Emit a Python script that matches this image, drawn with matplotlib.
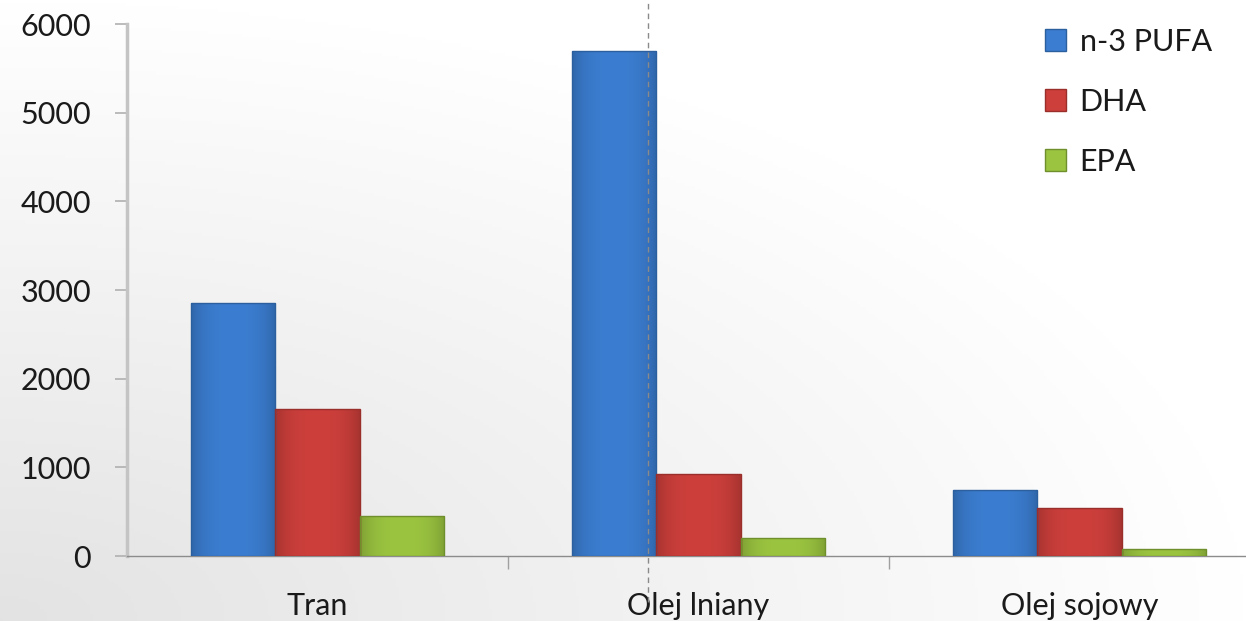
import numpy as np
import matplotlib
matplotlib.use('Agg')
import matplotlib.pyplot as plt
from matplotlib.lines import Line2D
from matplotlib.colors import to_rgb

categories = ['Tran', 'Olej lniany', 'Olej sojowy']
series_names = ['n-3 PUFA', 'DHA', 'EPA']
pufa = [2850, 5690, 750]
dha = [1660, 925, 545]
epa = [450, 200, 75]
y_ticks = [0, 1000, 2000, 3000, 4000, 5000, 6000]

_COLORS = ['#3b7dd0', '#cc3f3b', '#9bc440']
_EDGES = ['#2b5f9e', '#9a2e2b', '#6f8f2c']
_FONT = ['Lato', 'DejaVu Sans']
_TXT = '#1a1a1a'
_FS = 22

plt.rcParams['font.family'] = _FONT

W, H = 1246, 621
fig = plt.figure(figsize=(W / 100, H / 100), dpi=100)

# soft grey gradient background, darker towards the lower-left corner
bg = fig.add_axes([0, 0, 1, 1], zorder=-10)
yy, xx = np.mgrid[0:1:200j, 0:1:400j]
shade = 0.89 + 0.11 * np.clip(np.hypot(xx, yy) / 1.0, 0, 1)
bg.imshow(np.dstack([shade, shade, shade]), extent=[0, 1, 0, 1], origin='lower',
          aspect='auto')
bg.axis('off')

ax = fig.add_axes([127 / W, 1 - 556 / H, 1 - 127 / W, (556 - 24) / H])
ax.patch.set_alpha(0)


def shade_bar(ax, patch, color):
    # horizontal bevel: darker at the sides, lighter in the middle
    base = np.array(to_rgb(color))
    u = np.linspace(0, 1, 64)
    f = 1.0 - 0.18 * np.abs(u - 0.5) ** 3 * 8
    img = np.clip(base[None, None, :] * f[None, :, None], 0, 1)
    x0, y0 = patch.get_x(), patch.get_y()
    im = ax.imshow(img, extent=[x0, x0 + patch.get_width(), y0, y0 + patch.get_height()],
                   aspect='auto', zorder=3, interpolation='bicubic')
    im.set_clip_path(patch)


x = np.arange(len(categories))
bw = 0.222
for i, vals in enumerate([pufa, dha, epa]):
    bars = ax.bar(x + (i - 1) * bw, vals, width=bw, color=_COLORS[i], edgecolor=_EDGES[i],
                  linewidth=1.0, label=series_names[i], zorder=4)
    for b in bars:
        shade_bar(ax, b, _COLORS[i])
        b.set_facecolor('none')

ax.set_ylim(0, 6000)
ax.set_xlim(-0.5, -0.5 + (W - 127) / 381)
ax.set_yticks(y_ticks)
ax.set_yticklabels([str(v) for v in y_ticks], fontsize=_FS, color=_TXT)
ax.tick_params(axis='y', length=9, width=1.2, color='#b0b0b0', pad=17)

ax.set_xticks(x)
ax.set_xticklabels(categories, fontsize=_FS, color=_TXT)
ax.tick_params(axis='x', which='major', length=0, pad=26)
ax.set_xticks([0.5, 1.5], minor=True)
ax.tick_params(axis='x', which='minor', length=9, width=1, color='#a0a0a0')

for side in ['top', 'right']:
    ax.spines[side].set_visible(False)
ax.spines['left'].set_color('#c4c4c4')
ax.spines['left'].set_linewidth(2.5)
ax.spines['bottom'].set_color('#8c8c8c')
ax.spines['bottom'].set_linewidth(1)

handles = [plt.Rectangle((0, 0), 1, 1, facecolor=c, edgecolor=e, linewidth=1)
           for c, e in zip(_COLORS, _EDGES)]
leg = ax.legend(handles, series_names, loc='upper left',
                bbox_to_anchor=((1017 - 127) / (W - 127), 1.045),
                frameon=False, fontsize=_FS, handlelength=0.7, handleheight=0.7,
                handletextpad=0.45, labelspacing=1.05)
for t in leg.get_texts():
    t.set_color(_TXT)

fig.add_artist(Line2D([648 / W, 648 / W], [0.03, 1.0], color='#8a8a8a',
                      linestyle=(0, (4, 3)), linewidth=1, zorder=10))

fig.savefig('out.png', dpi=100)
